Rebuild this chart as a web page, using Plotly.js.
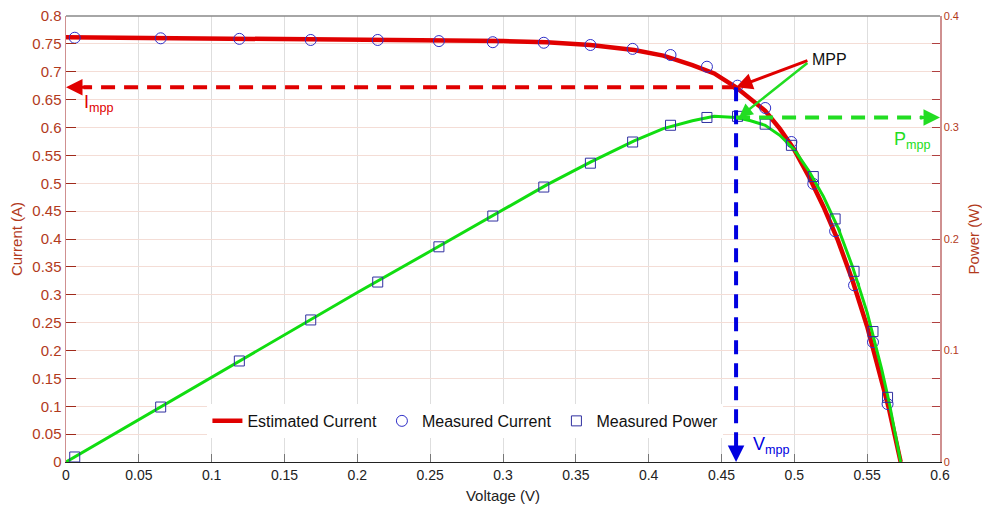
<!DOCTYPE html>
<html>
<head>
<meta charset="utf-8">
<script src="https://cdn.plot.ly/plotly-3.0.1.min.js"></script>
<style>html,body{margin:0;padding:0;background:#fff;}#chart{width:982px;height:515px;}</style>
</head>
<body>
<div id="chart"></div>
<script>
// Estimated curve (solid lines)
const vEst = [0, 0.05, 0.1, 0.15, 0.2, 0.25, 0.3, 0.33, 0.36, 0.39, 0.41, 0.43, 0.445, 0.46, 0.47, 0.48, 0.49, 0.5, 0.51, 0.52, 0.53, 0.54, 0.55, 0.56, 0.565, 0.573];
const iEst = [0.762, 0.761, 0.760, 0.759, 0.758, 0.757, 0.755, 0.753, 0.748, 0.739, 0.729, 0.712, 0.697, 0.672, 0.652, 0.630, 0.598, 0.560, 0.512, 0.458, 0.397, 0.325, 0.243, 0.148, 0.095, 0.0];
const pEst = [0, 0.038, 0.076, 0.114, 0.152, 0.189, 0.2265, 0.2485, 0.269, 0.288, 0.299, 0.306, 0.310, 0.309, 0.306, 0.302, 0.293, 0.280, 0.261, 0.238, 0.210, 0.175, 0.134, 0.083, 0.054, 0.0];

// Measured points
const vMeas = [0.006, 0.065, 0.119, 0.168, 0.214, 0.256, 0.293, 0.328, 0.36, 0.389, 0.415, 0.44, 0.461, 0.48, 0.498, 0.513, 0.528, 0.541, 0.554, 0.564];
const iMeas = [0.761, 0.760, 0.759, 0.757, 0.757, 0.755, 0.753, 0.752, 0.748, 0.741, 0.730, 0.709, 0.675, 0.635, 0.574, 0.499, 0.414, 0.317, 0.215, 0.104];
const pMeas = [0.0045, 0.0493, 0.0906, 0.1274, 0.1614, 0.193, 0.2206, 0.2466, 0.268, 0.287, 0.302, 0.309, 0.310, 0.303, 0.284, 0.256, 0.218, 0.171, 0.117, 0.058];

// Right axis ticks (labels only at every 0.1 W)
const pTickVals = [0, 0.025, 0.05, 0.075, 0.1, 0.125, 0.15, 0.175, 0.2, 0.225, 0.25, 0.275, 0.3, 0.325, 0.35, 0.375, 0.4];
const pTickText = ['0', ' ', ' ', ' ', '0.1', ' ', ' ', ' ', '0.2', ' ', ' ', ' ', '0.3', ' ', ' ', ' ', '0.4'];

// Maximum power point
const vMpp = 0.46, iMpp = 0.672, pMpp = 0.309;

const axisRed = '#b23a1c';
const traces = [
  {x: vEst, y: iEst, type: 'scatter', mode: 'lines', name: 'Estimated Current',
   line: {color: '#e00000', width: 4.5}, yaxis: 'y'},
  {x: vEst, y: pEst, type: 'scatter', mode: 'lines', name: 'Estimated Power', showlegend: false,
   line: {color: '#11dd11', width: 3}, yaxis: 'y2'},
  {x: vMeas, y: iMeas, type: 'scatter', mode: 'markers', name: 'Measured Current',
   marker: {symbol: 'circle-open', size: 11, color: '#3030c8', line: {width: 1}}, yaxis: 'y'},
  {x: vMeas, y: pMeas, type: 'scatter', mode: 'markers', name: 'Measured Power',
   marker: {symbol: 'square-open', size: 10, color: '#3030a0', line: {width: 1}}, yaxis: 'y2'}
];

const layout = {
  width: 982, height: 515,
  margin: {l: 66, r: 42, t: 16, b: 53},
  paper_bgcolor: '#fff', plot_bgcolor: '#fff',
  font: {family: '"Liberation Sans", Arial, sans-serif', color: '#222'},
  showlegend: true,
  legend: {orientation: 'h', x: 0.457, xanchor: 'center', y: 0.092, yanchor: 'middle',
           bgcolor: '#ffffff', borderwidth: 0, font: {size: 16, color: '#111'}, itemwidth: 30},
  xaxis: {range: [0, 0.6], dtick: 0.05, tick0: 0, showgrid: true, gridcolor: '#dedede', gridwidth: 1,
          zeroline: false, showline: true, linecolor: '#222', linewidth: 1,
          ticks: 'inside', ticklen: 8, tickcolor: '#777',
          tickfont: {family: '"Liberation Sans Narrow", "Liberation Sans", Arial', size: 14, color: '#222'},
          title: {text: 'Voltage (V)', font: {family: '"Liberation Sans Narrow", "Liberation Sans", Arial', size: 15, color: '#222'}, standoff: 8}},
  yaxis: {range: [0, 0.8], dtick: 0.05, tick0: 0, showgrid: true, gridcolor: '#f4ddd6', gridwidth: 1,
          zeroline: false, showline: true, linecolor: '#cf9090', linewidth: 1.5,
          ticks: 'inside', ticklen: 10, tickcolor: '#a02a1a',
          tickfont: {size: 15, color: axisRed},
          title: {text: 'Current (A)', font: {size: 15, color: axisRed}, standoff: 6}},
  yaxis2: {range: [0, 0.4], overlaying: 'y', side: 'right', tickmode: 'array',
           tickvals: pTickVals, ticktext: pTickText, showgrid: false,
           zeroline: false, showline: true, linecolor: '#cf9090', linewidth: 1.5,
           ticks: 'inside', ticklen: 8, tickcolor: '#b04040',
           tickfont: {size: 11, color: axisRed},
           title: {text: 'Power (W)', font: {size: 15, color: axisRed}, standoff: 10}},
  shapes: [
    {type: 'line', xref: 'paper', yref: 'paper', x0: 0, x1: 1, y0: 1, y1: 1, line: {color: '#888', width: 1.5}},
    {type: 'line', xref: 'x', yref: 'y', x0: vMpp, x1: 0.012, y0: iMpp, y1: iMpp,
     line: {color: '#e00000', width: 4, dash: '14px,9px'}},
    {type: 'line', xref: 'x', yref: 'y', x0: vMpp, x1: vMpp, y0: iMpp, y1: 0.02,
     line: {color: '#0000e0', width: 4, dash: '14px,9px'}},
    {type: 'line', xref: 'x', yref: 'y2', x0: vMpp, x1: 0.588, y0: pMpp, y1: pMpp,
     line: {color: '#22dd22', width: 4, dash: '14px,9px'}}
  ],
  annotations: [
    {x: 0.0, y: iMpp, xref: 'x', yref: 'y', ax: 0.018, ay: iMpp, axref: 'x', ayref: 'y',
     showarrow: true, arrowhead: 2, arrowsize: 1.1, arrowwidth: 3, arrowcolor: '#e00000', text: ''},
    {x: vMpp, y: 0.0, xref: 'x', yref: 'y', ax: vMpp, ay: 0.03, axref: 'x', ayref: 'y',
     showarrow: true, arrowhead: 2, arrowsize: 1.1, arrowwidth: 3, arrowcolor: '#0000e0', text: ''},
    {x: 0.6, y: pMpp, xref: 'x', yref: 'y2', ax: 0.585, ay: pMpp, axref: 'x', ayref: 'y2',
     showarrow: true, arrowhead: 2, arrowsize: 1.1, arrowwidth: 3, arrowcolor: '#22dd22', text: ''},
    {x: vMpp, y: iMpp, xref: 'x', yref: 'y', ax: 0.510, ay: 0.721, axref: 'x', ayref: 'y',
     showarrow: true, arrowhead: 2, arrowsize: 1.1, arrowwidth: 3, arrowcolor: '#e00000', text: ''},
    {x: vMpp + 0.002, y: pMpp, xref: 'x', yref: 'y2', ax: 0.510, ay: 0.359, axref: 'x', ayref: 'y2',
     showarrow: true, arrowhead: 2, arrowsize: 1.1, arrowwidth: 2.5, arrowcolor: '#22dd22', text: ''},
    {x: 0.511, y: 0.722, xref: 'x', yref: 'y', xanchor: 'left', yanchor: 'middle', showarrow: false,
     text: 'MPP', font: {size: 16, color: '#111'}},
    {x: 0.011, y: 0.643, xref: 'x', yref: 'y', xanchor: 'left', yanchor: 'middle', showarrow: false,
     text: 'I<sub>mpp</sub>', font: {size: 18, color: '#e00000'}},
    {x: 0.470, y: 0.030, xref: 'x', yref: 'y', xanchor: 'left', yanchor: 'middle', showarrow: false,
     text: 'V<sub>mpp</sub>', font: {size: 18, color: '#0000e0'}},
    {x: 0.567, y: 0.288, xref: 'x', yref: 'y2', xanchor: 'left', yanchor: 'middle', showarrow: false,
     text: 'P<sub>mpp</sub>', font: {size: 18, color: '#22dd22'}}
  ]
};

Plotly.newPlot('chart', traces, layout, {displayModeBar: false, staticPlot: true});
</script>
</body>
</html>
